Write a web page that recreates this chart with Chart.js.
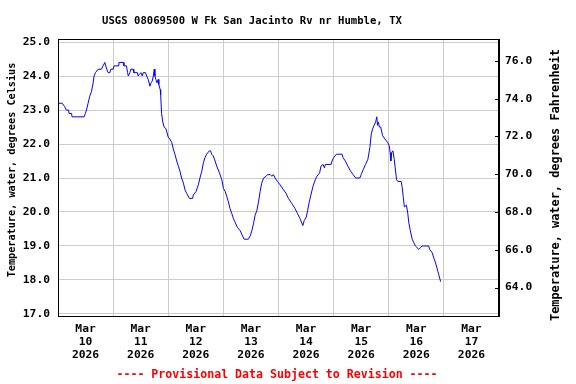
<!DOCTYPE html>
<html>
<head>
<meta charset="utf-8">
<script src="https://cdn.jsdelivr.net/npm/chart.js@4/dist/chart.umd.min.js"></script>
<style>
  body { margin: 0; background: #fff; }
  canvas { display: block; }
</style>
</head>
<body>
<canvas id="chart" width="576" height="384"></canvas>
<script>
// hours since Mar 10 2026 00:00 and water temperature in deg C
const hours = [
  0.0, 1.8, 2.9, 3.6, 4.6, 4.8, 5.9, 6.1, 11.4, 11.9, 12.4, 13.1, 13.8, 14.6, 15.3, 15.7,
  16.3, 16.9, 17.5, 18.9, 19.6, 20.4, 20.8, 21.5, 21.8, 22.6, 23.0, 24.0, 24.4, 26.2, 26.5, 28.4,
  28.7, 29.8, 30.3, 30.6, 31.3, 31.7, 32.7, 33.0, 34.6, 34.9, 35.4, 36.1, 36.7, 37.1, 38.1, 38.6,
  39.3, 40.0, 40.5, 41.0, 41.5, 41.9, 42.2, 42.6, 43.1, 43.6, 43.9, 44.5, 44.7, 45.1, 45.6, 46.2,
  47.0, 48.0, 48.7, 49.5, 50.2, 50.9, 51.7, 52.4, 53.1, 53.8, 54.6, 55.3, 56.0, 57.2, 58.6, 58.9,
  60.1, 61.1, 61.8, 62.6, 63.3, 64.0, 64.7, 65.9, 66.4, 66.9, 67.6, 68.4, 69.1, 70.3, 71.3, 72.0,
  72.8, 73.5, 74.2, 74.9, 75.7, 76.4, 77.1, 78.1, 79.3, 80.0, 81.0, 82.9, 83.7, 84.4, 85.1, 85.8,
  86.6, 87.3, 88.0, 88.7, 89.5, 90.6, 91.2, 92.4, 93.1, 93.8, 94.5, 95.5, 96.7, 98.2, 99.3, 100.3,
  101.8, 103.2, 104.3, 105.4, 106.6, 107.2, 108.1, 108.7, 109.4, 110.1, 111.0, 112.0, 112.7, 113.9, 114.5, 115.4,
  116.0, 116.4, 118.9, 119.3, 120.0, 121.2, 123.7, 124.1, 125.1, 126.2, 127.4, 128.5, 129.6, 131.4, 132.0, 132.9,
  133.9, 134.9, 135.8, 136.4, 137.0, 137.6, 138.3, 138.8, 139.1, 139.5, 139.9, 140.5, 141.3, 142.3, 143.5, 144.2,
  144.6, 144.9, 145.3, 145.8, 146.4, 146.8, 147.4, 147.9, 149.4, 149.8, 150.3, 150.8, 151.7, 152.3, 152.7, 153.4,
  154.2, 154.9, 155.6, 157.1, 157.8, 158.5, 159.2, 161.4, 161.8, 162.9, 163.6, 164.4, 165.4, 165.8, 166.6
];
const tempC = [
  23.2, 23.2, 23.1, 23.0, 23.0, 22.9, 22.9, 22.8, 22.8, 22.9, 23.0, 23.2, 23.4, 23.55, 23.8, 24.0,
  24.1, 24.15, 24.2, 24.2, 24.3, 24.4, 24.3, 24.15, 24.1, 24.1, 24.2, 24.2, 24.3, 24.3, 24.4, 24.4,
  24.3, 24.3, 24.1, 24.0, 24.1, 24.2, 24.2, 24.1, 24.1, 24.0, 24.05, 24.1, 24.0, 24.1, 24.1, 24.0,
  23.9, 23.7, 23.8, 23.85, 24.0, 24.2, 24.0, 23.9, 23.8, 23.9, 23.75, 23.6, 23.45, 22.9, 22.65, 22.5,
  22.45, 22.2, 22.15, 22.05, 21.85, 21.7, 21.5, 21.35, 21.2, 21.0, 20.85, 20.65, 20.55, 20.4, 20.4, 20.5,
  20.6, 20.8, 21.0, 21.2, 21.45, 21.6, 21.7, 21.8, 21.8, 21.7, 21.65, 21.5, 21.35, 21.15, 20.95, 20.7,
  20.6, 20.45, 20.3, 20.1, 19.95, 19.8, 19.7, 19.55, 19.45, 19.35, 19.2, 19.2, 19.3, 19.45, 19.65, 19.9,
  20.05, 20.3, 20.6, 20.85, 21.0, 21.05, 21.1, 21.1, 21.05, 21.1, 21.0, 20.9, 20.8, 20.65, 20.55, 20.4,
  20.25, 20.1, 19.95, 19.8, 19.6, 19.75, 19.85, 20.05, 20.3, 20.5, 20.75, 20.95, 21.05, 21.15, 21.35, 21.4,
  21.3, 21.4, 21.4, 21.5, 21.6, 21.7, 21.7, 21.6, 21.5, 21.35, 21.2, 21.1, 21.0, 21.0, 21.1, 21.25,
  21.4, 21.55, 21.9, 22.3, 22.45, 22.55, 22.65, 22.8, 22.55, 22.65, 22.5, 22.5, 22.25, 22.15, 22.05, 21.95,
  21.75, 21.5, 21.75, 21.8, 21.55, 21.3, 20.95, 20.9, 20.9, 20.75, 20.45, 20.15, 20.2, 19.95, 19.7, 19.45,
  19.2, 19.1, 19.0, 18.9, 18.95, 19.0, 19.0, 19.0, 18.9, 18.8, 18.65, 18.5, 18.25, 18.15, 17.95
];

const dayLabels = ['10', '11', '12', '13', '14', '15', '16', '17'];
const monthLabel = 'Mar';
const yearLabel = '2026';
const celsiusTicks = [17, 18, 19, 20, 21, 22, 23, 24, 25];
const fahrenheitTicks = [64, 66, 68, 70, 72, 74, 76];

const titleText = 'USGS 08069500 W Fk San Jacinto Rv nr Humble, TX';
const footerText = '---- Provisional Data Subject to Revision ----';

const yMinC = 16.94;
const yMaxC = 25.09;
const toF = c => c * 1.8 + 32;
const mono = "'DejaVu Sans Mono', 'Liberation Mono', monospace";

// title, footer, right-hand axis title and plot frame
const decorations = {
  id: 'decorations',
  afterDraw(chart) {
    const ctx = chart.ctx;
    const area = chart.chartArea;
    ctx.save();

    ctx.strokeStyle = '#000';
    ctx.lineWidth = 1;
    ctx.strokeRect(Math.round(area.left) + 0.5, Math.round(area.top) + 0.5,
      Math.round(area.right - area.left) - 1, Math.round(area.bottom - area.top));

    // small inward ticks on the Fahrenheit axis
    const y2 = chart.scales.y2;
    ctx.beginPath();
    y2.ticks.forEach(t => {
      const py = Math.round(y2.getPixelForValue(t.value)) + 0.5;
      ctx.moveTo(area.right - 4, py);
      ctx.lineTo(area.right, py);
    });
    ctx.stroke();

    ctx.fillStyle = '#000';
    ctx.textAlign = 'center';
    ctx.textBaseline = 'middle';
    ctx.font = 'bold 10.6px ' + mono;
    ctx.fillText(titleText, 252, 21);

    ctx.fillStyle = '#ff0000';
    ctx.font = 'bold 11.6px ' + mono;
    ctx.fillText(footerText, 277, 375);

    ctx.fillStyle = '#000';
    ctx.font = 'bold 10.2px ' + mono;
    ctx.translate(12, 170);
    ctx.rotate(-Math.PI / 2);
    ctx.fillText('Temperature, water, degrees Celsius', 0, 0);
    ctx.setTransform(1, 0, 0, 1, 0, 0);

    ctx.font = 'bold 11.9px ' + mono;
    ctx.translate(556, 185);
    ctx.rotate(-Math.PI / 2);
    ctx.fillText('Temperature, water, degrees Fahrenheit', 0, 0);
    ctx.restore();
  }
};

new Chart(document.getElementById('chart'), {
  type: 'line',
  data: {
    datasets: [{
      data: hours.map((h, i) => ({ x: h, y: tempC[i] })),
      borderColor: '#0000ff',
      borderWidth: 1,
      pointRadius: 0,
      tension: 0,
      fill: false,
      yAxisID: 'y'
    }]
  },
  options: {
    responsive: false,
    animation: false,
    layout: { padding: { top: 39, left: 0, right: 0, bottom: 0 } },
    plugins: {
      legend: { display: false },
      tooltip: { enabled: false }
    },
    scales: {
      x: {
        type: 'linear',
        position: 'bottom',
        min: 0,
        max: 192,
        afterBuildTicks: scale => {
          const t = [];
          for (let v = 0; v <= 192; v += 12) t.push({ value: v });
          scale.ticks = t;
        },
        afterFit: scale => { scale.height = 68; },
        grid: {
          color: ctx => (ctx.tick && ctx.tick.value % 24 === 0) ? '#cccccc' : 'rgba(0,0,0,0)',
          drawTicks: false
        },
        border: { display: true, color: '#000' },
        ticks: {
          autoSkip: false,
          maxRotation: 0,
          padding: 7,
          color: '#000',
          font: { family: mono, size: 11.3, weight: 'bold', lineHeight: 1.15 },
          callback: value => {
            if (value % 24 !== 12) return '';
            return [monthLabel, dayLabels[(value - 12) / 24], yearLabel];
          }
        }
      },
      y: {
        position: 'left',
        min: yMinC,
        max: yMaxC,
        afterBuildTicks: scale => { scale.ticks = celsiusTicks.map(v => ({ value: v })); },
        afterFit: scale => { scale.width = 58; },
        grid: { color: '#cccccc', drawTicks: false },
        border: { display: true, color: '#000' },
        ticks: {
          padding: 8,
          color: '#000',
          font: { family: mono, size: 11.3, weight: 'bold' },
          callback: v => v.toFixed(1)
        }
      },
      y2: {
        position: 'right',
        min: toF(yMinC),
        max: toF(yMaxC),
        afterBuildTicks: scale => { scale.ticks = fahrenheitTicks.map(v => ({ value: v })); },
        afterFit: scale => { scale.width = 77; },
        grid: { drawOnChartArea: false, drawTicks: false },
        border: { display: true, color: '#000' },
        ticks: {
          padding: 6,
          color: '#000',
          font: { family: mono, size: 11.3, weight: 'bold' },
          callback: v => v.toFixed(1)
        }
      }
    }
  },
  plugins: [decorations]
});
</script>
</body>
</html>
